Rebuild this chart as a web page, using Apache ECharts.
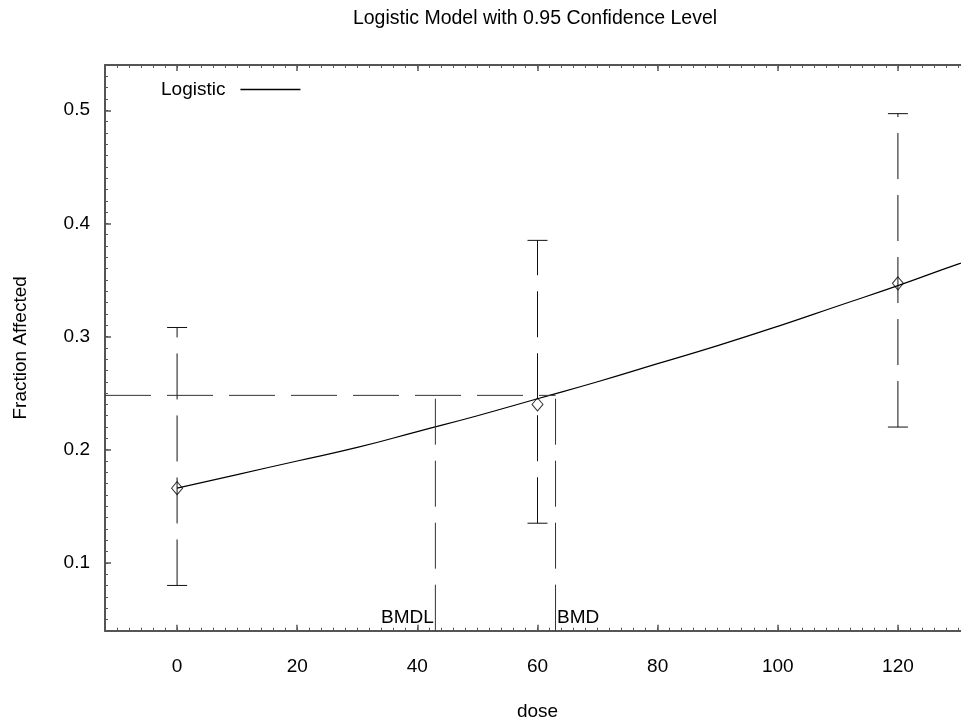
<!DOCTYPE html>
<html>
<head>
<meta charset="utf-8">
<script src="https://cdn.jsdelivr.net/npm/echarts@6/dist/echarts.min.js"></script>
<style>
html,body{margin:0;padding:0;background:#fff;}
#chart{width:961px;height:721px;}
</style>
</head>
<body>
<div id="chart"></div>
<script>
// ---- data ----
const titleText = 'Logistic Model with 0.95 Confidence Level';
const xName = 'dose';
const yName = 'Fraction Affected';
const legendName = 'Logistic';

// fitted logistic curve
const curveDose = [0, 10, 20, 30, 40, 50, 60, 70, 80, 90, 100, 110, 120, 130, 132];
const curveFrac = [0.166, 0.178, 0.190, 0.202, 0.216, 0.230, 0.245, 0.260, 0.276, 0.292, 0.309, 0.327, 0.345, 0.364, 0.367];

// observed points with 95% confidence limits
const obsDose = [0, 60, 120];
const obsMean = [0.166, 0.240, 0.347];
const obsLower = [0.080, 0.135, 0.220];
const obsUpper = [0.308, 0.385, 0.497];

// benchmark dose lines
const bmrLevel = 0.248;
const bmdl = 43.0;
const bmd = 63.0;

// axis ranges
const xMin = -12, xMax = 132;
const yMin = 0.04, yMax = 0.54;

const FONT = '"Liberation Sans", Arial, Helvetica, sans-serif';
const FS = 19;
const AXC = '#555';

const chart = echarts.init(document.getElementById('chart'), null, {renderer: 'canvas'});

function majorX(pos, labels) {
  return {
    type: 'value', position: pos, min: xMin, max: xMax, splitNumber: 7,
    name: labels ? xName : '', nameLocation: 'middle', nameGap: 72,
    nameTextStyle: {fontFamily: FONT, fontSize: FS, color: '#000'},
    axisLine: {show: true, onZero: false, lineStyle: {color: AXC, width: 2}},
    axisTick: {show: true, inside: true, length: 6, lineStyle: {color: AXC, width: 1.5}},
    axisLabel: {show: labels, showMinLabel: false, showMaxLabel: false, margin: 27,
      fontFamily: FONT, fontSize: FS, color: '#000'},
    splitLine: {show: false}
  };
}
function minorX(pos) {
  return {
    type: 'value', position: pos, min: xMin, max: xMax, interval: 2,
    axisLine: {show: false, onZero: false},
    axisTick: {show: true, inside: true, length: 3, lineStyle: {color: AXC, width: 1}},
    axisLabel: {show: false}, splitLine: {show: false}
  };
}
function majorY(pos, labels) {
  return {
    type: 'value', position: pos, min: yMin, max: yMax, splitNumber: 5,
    name: labels ? yName : '', nameLocation: 'middle', nameGap: 75, nameRotate: 90,
    nameTextStyle: {fontFamily: FONT, fontSize: FS, color: '#000'},
    axisLine: {show: true, onZero: false, lineStyle: {color: AXC, width: 2}},
    axisTick: {show: true, inside: true, length: 6, lineStyle: {color: AXC, width: 1.5}},
    axisLabel: {show: labels, showMinLabel: false, showMaxLabel: false, margin: 15,
      fontFamily: FONT, fontSize: FS, color: '#000',
      formatter: v => (Math.round(v * 10) / 10).toFixed(1)},
    splitLine: {show: false}
  };
}
function minorY(pos) {
  return {
    type: 'value', position: pos, min: yMin, max: yMax, interval: 0.01,
    axisLine: {show: false, onZero: false},
    axisTick: {show: true, inside: true, length: 3, lineStyle: {color: AXC, width: 1}},
    axisLabel: {show: false}, splitLine: {show: false}
  };
}

const dash = [46, 16];
const lblStyle = {fontFamily: FONT, fontSize: FS, color: '#000', textBorderWidth: 0, opacity: 1};

const option = {
  animation: false,
  backgroundColor: '#fff',
  textStyle: {fontFamily: FONT},
  graphic: [{
    type: 'text', x: 535, y: 19,
    style: {text: titleText, fill: '#000', font: '19.5px ' + FONT, align: 'center', verticalAlign: 'middle'}
  }],
  legend: {
    data: [{name: legendName, icon: 'rect'}], left: 156, top: 75, align: 'right', orient: 'horizontal',
    itemWidth: 60, itemHeight: 1.4,
    itemStyle: {color: '#000', borderWidth: 0},
    textStyle: {fontFamily: FONT, fontSize: FS, color: '#000', padding: [0, 10, 0, 0]}
  },
  grid: {left: 105, top: 65, right: -9, bottom: 90.3, containLabel: false, outerBoundsMode: 'none'},
  xAxis: [majorX('bottom', true), minorX('bottom'), majorX('top', false), minorX('top')],
  yAxis: [majorY('left', true), minorY('left')],
  series: [
    {
      name: legendName, type: 'line', xAxisIndex: 0, yAxisIndex: 0,
      data: curveDose.map((d, i) => [d, curveFrac[i]]),
      smooth: true, symbol: 'none', clip: true,
      lineStyle: {color: '#000', width: 1.2}, itemStyle: {color: '#000'}
    },
    {
      name: 'BMR', type: 'line', xAxisIndex: 0, yAxisIndex: 0,
      data: [[xMin, bmrLevel], [bmd, bmrLevel]], symbol: 'none',
      lineStyle: {color: '#333', width: 1, type: dash}
    },
    {
      name: 'BMDL', type: 'line', xAxisIndex: 0, yAxisIndex: 0,
      data: [[bmdl, yMin], [bmdl, bmrLevel]], symbol: 'none',
      lineStyle: {color: '#333', width: 1, type: dash}
    },
    {
      name: 'BMD', type: 'line', xAxisIndex: 0, yAxisIndex: 0,
      data: [[bmd, yMin], [bmd, bmrLevel]], symbol: 'none',
      lineStyle: {color: '#333', width: 1, type: dash}
    },
    {
      name: 'bmdLabels', type: 'scatter', xAxisIndex: 0, yAxisIndex: 0,
      symbolSize: 1, silent: true, itemStyle: {color: 'rgba(0,0,0,0)', opacity: 1},
      data: [
        {value: [bmdl, yMin], label: Object.assign({show: true, position: 'left', distance: 1, formatter: 'BMDL', offset: [0, -13]}, lblStyle)},
        {value: [bmd, yMin], label: Object.assign({show: true, position: 'right', distance: 1, formatter: 'BMD', offset: [0, -13]}, lblStyle)}
      ],
      label: lblStyle
    },
    {
      name: 'errorBars', type: 'custom', xAxisIndex: 0, yAxisIndex: 0,
      data: obsDose.map((d, i) => [d, obsLower[i], obsUpper[i]]),
      renderItem: function (params, api) {
        const lo = api.coord([api.value(0), api.value(1)]);
        const hi = api.coord([api.value(0), api.value(2)]);
        const w = 10;
        const st = {stroke: '#111', lineWidth: 1, fill: null};
        return {
          type: 'group',
          children: [
            {type: 'line', shape: {x1: lo[0], y1: lo[1], x2: hi[0], y2: hi[1]},
              style: Object.assign({}, st, {lineDash: dash})},
            {type: 'line', shape: {x1: lo[0] - w, y1: lo[1], x2: lo[0] + w, y2: lo[1]}, style: st},
            {type: 'line', shape: {x1: hi[0] - w, y1: hi[1], x2: hi[0] + w, y2: hi[1]}, style: st}
          ]
        };
      }
    },
    {
      name: 'observed', type: 'scatter', xAxisIndex: 0, yAxisIndex: 0,
      data: obsDose.map((d, i) => [d, obsMean[i]]),
      symbol: 'diamond', symbolSize: [11, 13],
      itemStyle: {color: 'rgba(255,255,255,0)', borderColor: '#000', borderWidth: 1},
      z: 5
    }
  ]
};
chart.setOption(option);
</script>
</body>
</html>
